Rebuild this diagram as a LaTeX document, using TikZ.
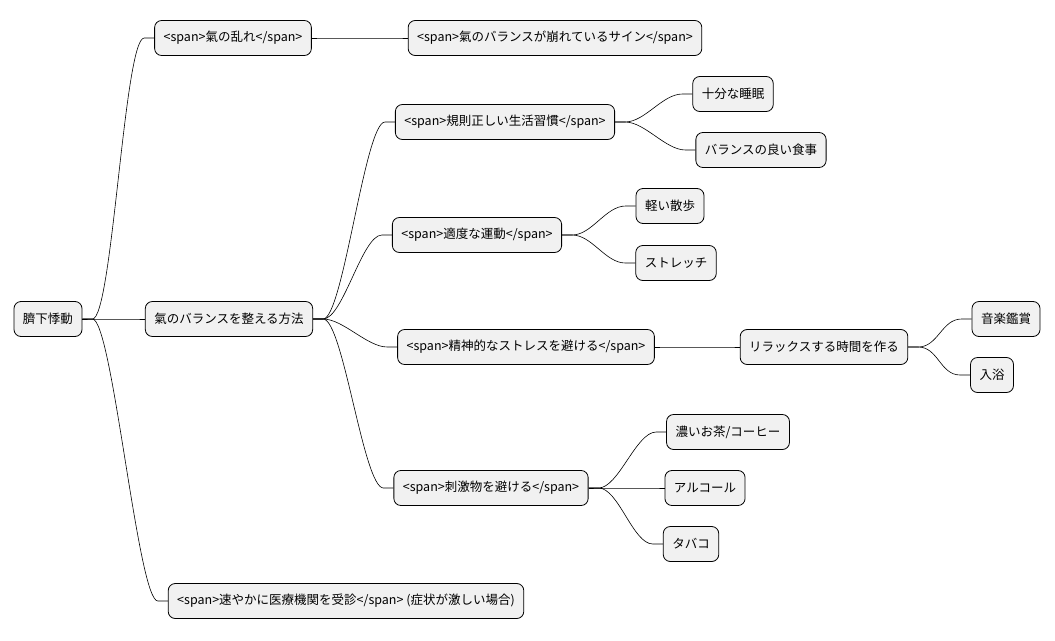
\documentclass[tikz,border=0pt]{standalone}
\usepackage{fontspec}
\setmainfont{Noto Sans CJK JP}
\usetikzlibrary{positioning}
\definecolor{boxfill}{HTML}{F1F1F1}
\tikzset{
  idea/.style={draw=black, line width=0.8pt, fill=boxfill, rounded corners=7pt,
    minimum height=35pt, inner xsep=9pt, font=\fontsize{12.5}{15}\selectfont},
  branch/.style={line width=0.6pt},
}
\begin{document}
\begin{tikzpicture}[x=1pt,y=-1pt]
\useasboundingbox (0,0) rectangle (1055,640);

% root and first level
\node[idea] (root) at (48,319) {臍下悸動};
\node[idea] (midare) at (233,38) {<span>氣の乱れ</span>};
\node[idea] (sign) at (555,38) {<span>氣のバランスが崩れているサイン</span>};
\node[idea] (houhou) at (229,319) {氣のバランスを整える方法};
\node[idea] (jushin) at (346,601) {<span>速やかに医療機関を受診</span> (症状が激しい場合)};

% methods
\node[idea] (kisoku) at (505,122) {<span>規則正しい生活習慣</span>};
\node[idea] (suimin) at (733,94) {十分な睡眠};
\node[idea] (shokuji) at (761,150) {バランスの良い食事};
\node[idea] (undou) at (477,235) {<span>適度な運動</span>};
\node[idea] (sanpo) at (670,206) {軽い散歩};
\node[idea] (stretch) at (676,263) {ストレッチ};
\node[idea] (seishin) at (526,347) {<span>精神的なストレスを避ける</span>};
\node[idea] (relax) at (824,347) {リラックスする時間を作る};
\node[idea] (ongaku) at (1006,319) {音楽鑑賞};
\node[idea] (nyuyoku) at (992,375) {入浴};
\node[idea] (shigeki) at (491,488) {<span>刺激物を避ける</span>};
\node[idea] (ocha) at (728,432) {濃いお茶/コーヒー};
\node[idea] (alcohol) at (705,488) {アルコール};
\node[idea] (tabako) at (691,544) {タバコ};

% connectors
\foreach \a/\b in {root/midare, root/houhou, root/jushin, midare/sign,
  houhou/kisoku, houhou/undou, houhou/seishin, houhou/shigeki,
  kisoku/suimin, kisoku/shokuji, undou/sanpo, undou/stretch,
  seishin/relax, relax/ongaku, relax/nyuyoku,
  shigeki/ocha, shigeki/alcohol, shigeki/tabako}
  \draw[branch] (\a.east) -- ++(10,0) .. controls +(20,0) and +(-20,0) .. ([xshift=-10pt]\b.west) -- (\b.west);
\end{tikzpicture}
\end{document}
